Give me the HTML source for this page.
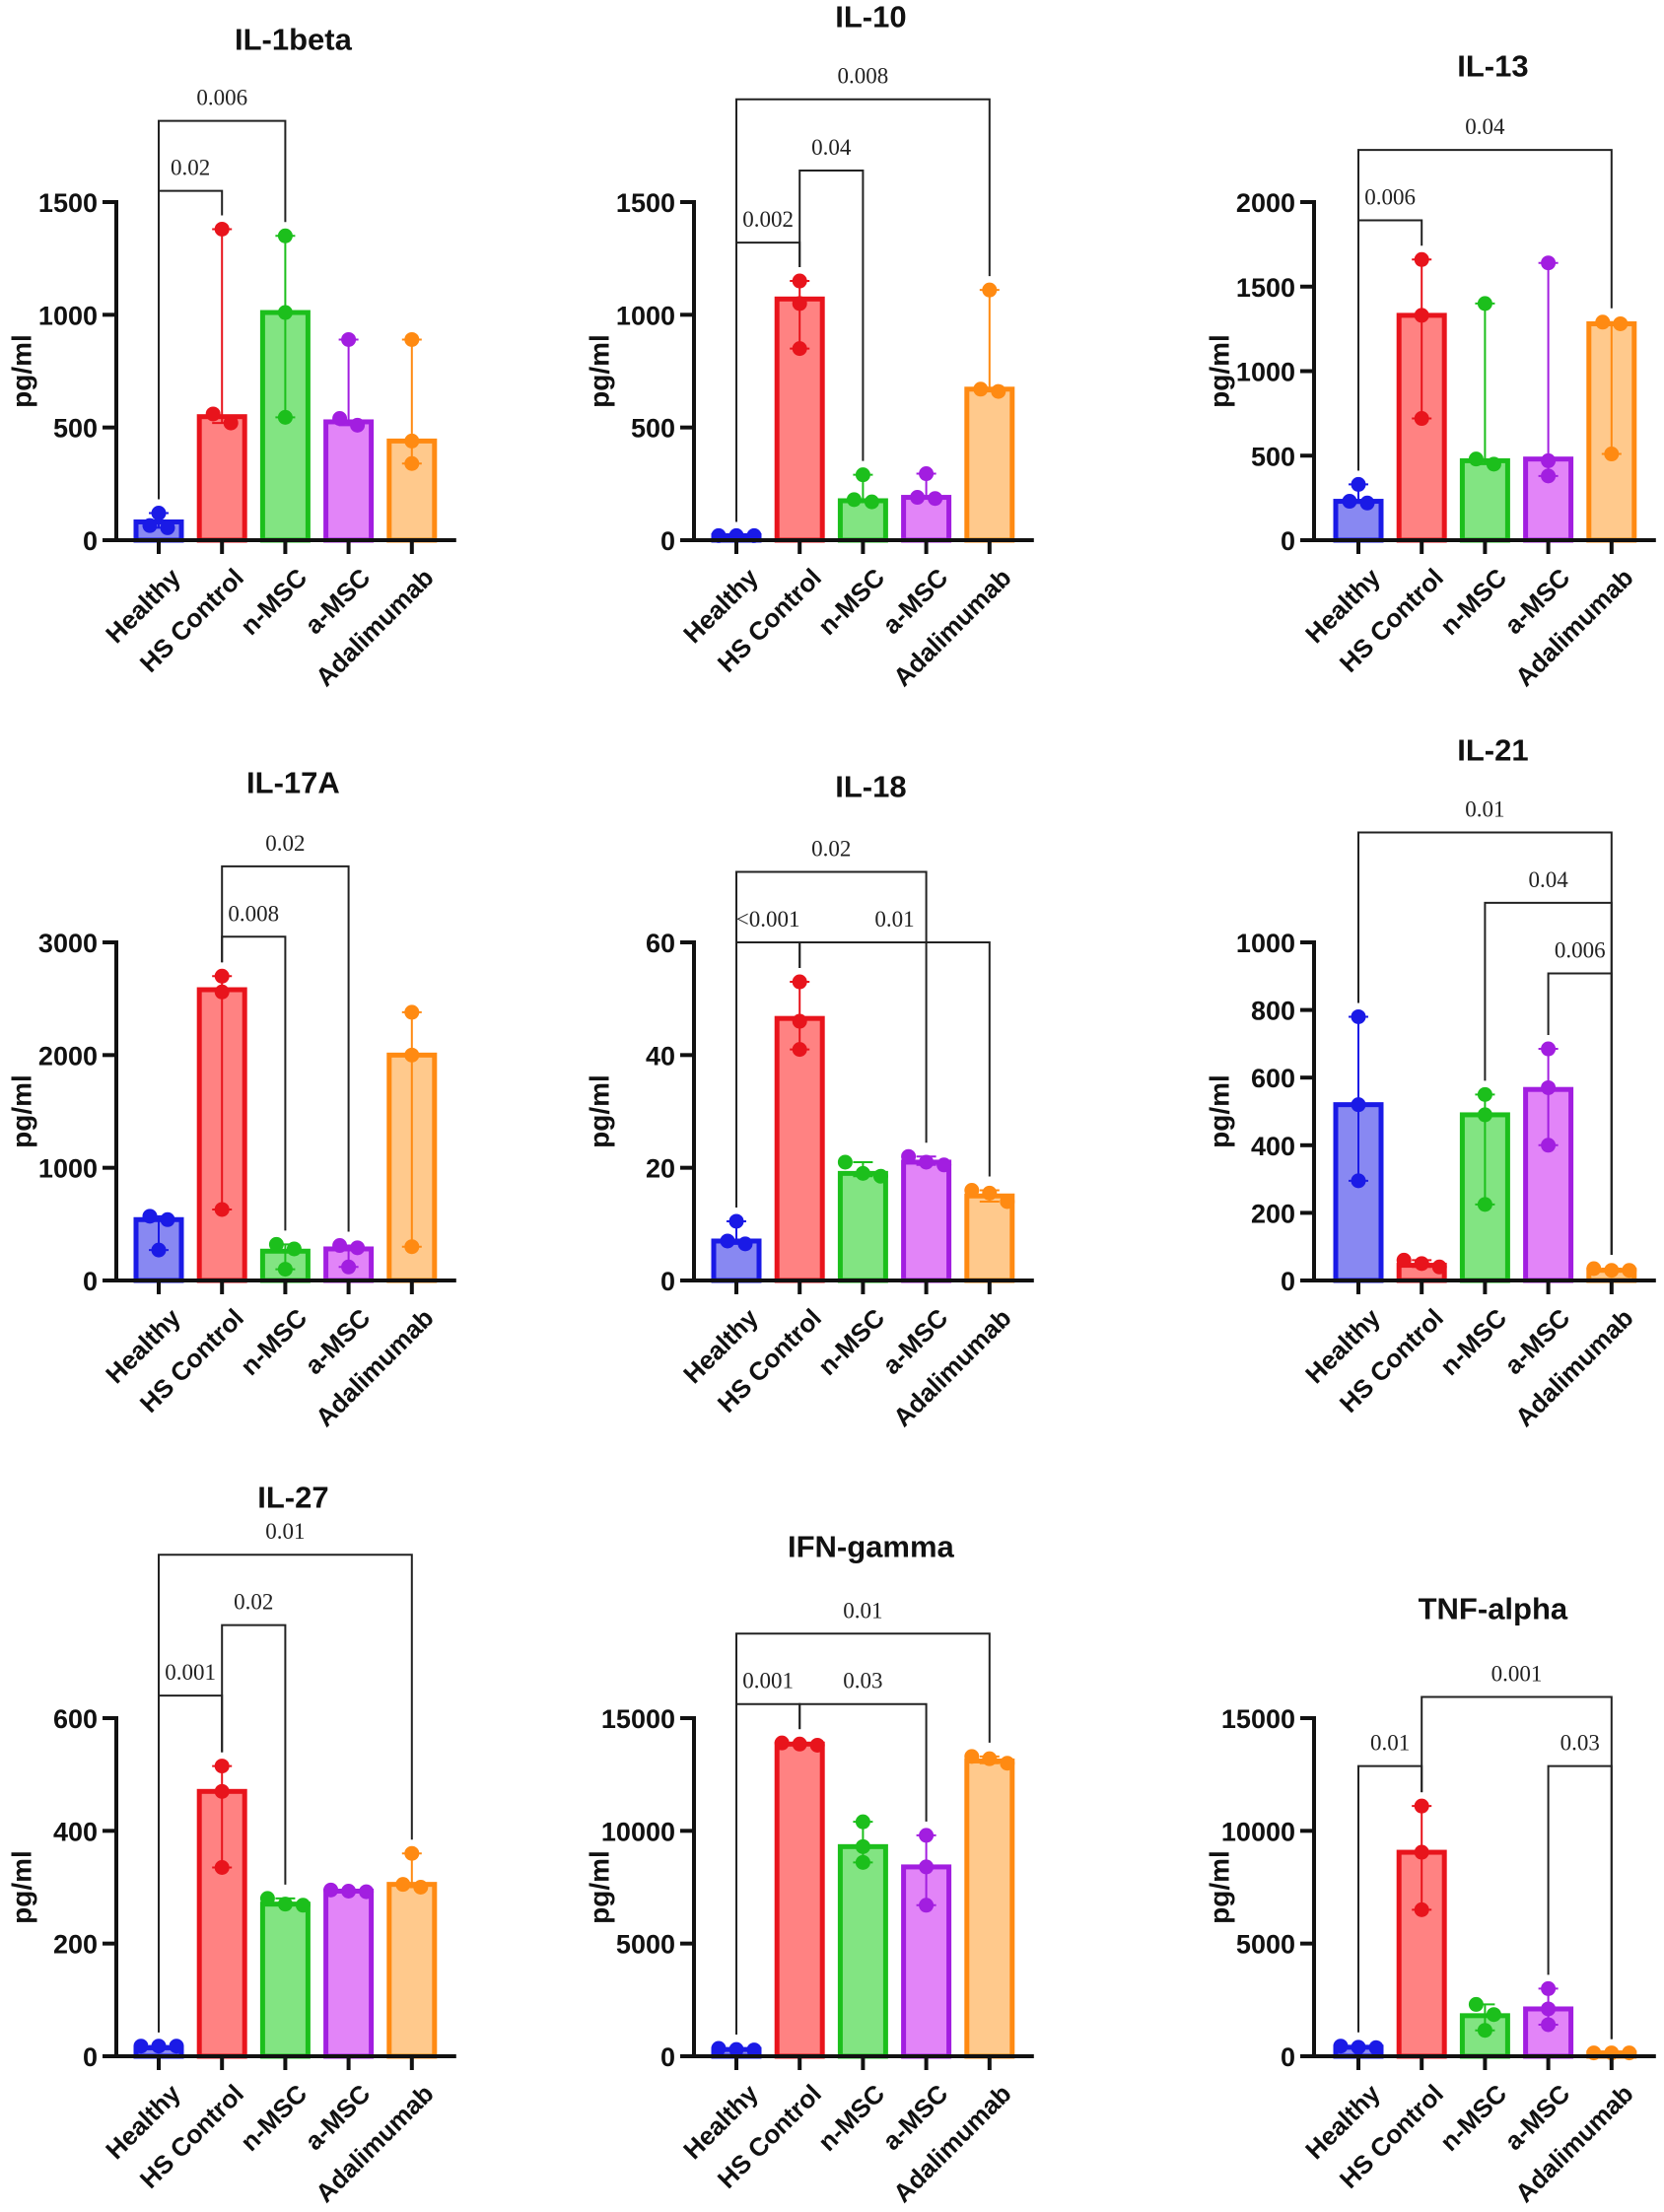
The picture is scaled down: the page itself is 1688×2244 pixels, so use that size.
<!DOCTYPE html>
<html><head><meta charset="utf-8"><style>
html,body{margin:0;padding:0;background:#fff;}
svg{display:block;}
</style></head><body>
<svg id="fig" width="1688" height="2244" viewBox="0 0 1688 2244" xmlns="http://www.w3.org/2000/svg"></svg>
<script>
const groups = ["Healthy","HS Control","n-MSC","a-MSC","Adalimumab"];
const titles = ["IL-1beta","IL-10","IL-13","IL-17A","IL-18","IL-21","IL-27","IFN-gamma","TNF-alpha"];
const yMax = [1500,1500,2000,3000,60,1000,600,15000,15000];
const yTicks = [[0,500,1000,1500],[0,500,1000,1500],[0,500,1000,1500,2000],[0,1000,2000,3000],[0,20,40,60],[0,200,400,600,800,1000],[0,200,400,600],[0,5000,10000,15000],[0,5000,10000,15000]];
const barMedians = [
 [81,548,1010,525,440],
 [20,1070,175,190,670],
 [230,1330,470,480,1280],
 [540,2580,260,280,2000],
 [7,46.5,19,21,15],
 [520,45,490,565,30],
 [15,470,270,293,305],
 [300,13850,9300,8400,13100],
 [400,9050,1800,2100,150]];
const points = [
 [[120,55,65],[1380,520,560],[1350,1010,545],[890,510,540],[890,440,340]],
 [[20,20,20],[1150,1050,850],[290,180,170],[295,190,185],[1110,670,660]],
 [[330,230,220],[1660,1330,720],[1400,480,450],[1640,470,380],[1290,1280,510]],
 [[570,540,270],[2700,2560,630],[320,280,100],[310,290,120],[2380,2000,300]],
 [[10.5,7,6.5],[53,46,41],[21,19,18.5],[22,21,20.5],[16,15.5,14]],
 [[780,520,295],[60,50,40],[550,490,225],[685,570,400],[35,30,30]],
 [[18,18,18],[515,470,335],[280,270,268],[295,293,292],[360,305,300]],
 [[350,300,280],[13900,13850,13800],[10400,9300,8600],[9800,8400,6700],[13300,13200,13000]],
 [[450,400,380],[11100,9050,6500],[2300,1850,1150],[3000,2100,1400],[150,150,150]]];
// brackets: [from group, to group, level (data units), label]
const brackets = [
 [[0,1,1550,"0.02"],[0,2,1860,"0.006"]],
 [[0,1,1320,"0.002"],[1,2,1640,"0.04"],[0,4,1956,"0.008"]],
 [[0,1,1892,"0.006"],[0,4,2308,"0.04"]],
 [[1,2,3050,"0.008"],[1,3,3675,"0.02"]],
 [[0,1,60,"<0.001"],[1,4,60,"0.01"],[0,3,72.5,"0.02"]],
 [[3,4,908,"0.006"],[2,4,1117,"0.04"],[0,4,1325,"0.01"]],
 [[0,1,640,"0.001"],[1,2,765,"0.02"],[0,4,890,"0.01"]],
 [[0,1,15625,"0.001"],[1,3,15625,"0.03"],[0,4,18750,"0.01"]],
 [[0,1,12875,"0.01"],[3,4,12875,"0.03"],[1,4,15940,"0.001"]]];

const colX0 = [161,747,1378], axisXs = [118,704,1333], zeroYs = [548,1299,2086];
const titleYs = [40,17,67,794,798,761,1519,1569,1632];
const SP = 64.2, PH = 343, BW = 46;
const stroke = ["#1a1ae6","#e8141c","#1cbf1c","#a21ee0","#ff8a12"];
const fill = ["#8888f2","#ff8282","#82e482","#e284f8","#ffc98c"];
const svg = document.getElementById('fig');
const NS = "http://www.w3.org/2000/svg";
function mk(tag, attrs, parent){const e=document.createElementNS(NS,tag);for(const k in attrs)e.setAttribute(k,attrs[k]);(parent||svg).appendChild(e);return e;}

titles.forEach((t,p)=>{
  const c=p%3, r=Math.floor(p/3);
  const g=mk('g',{});
  
  
  const ax=axisXs[c], x0=colX0[c], zy=zeroYs[r], xEnd=x0+4*SP+45;
  const yS=v=>zy-v/yMax[p]*PH;
  const xS=i=>x0+i*SP;
  const tt=mk('text',{x:x0+2*SP+8,y:titleYs[p],'text-anchor':'middle','dominant-baseline':'central','font-family':'Liberation Sans, sans-serif','font-weight':'bold','font-size':31,fill:'#111'},g);
  tt.textContent=t;
  
  
  groups.forEach((gn,i)=>{
    const cx=xS(i), top=yS(barMedians[p][i]);
    const b=mk('rect',{x:cx-BW/2,y:Math.min(top,zy-1),width:BW,height:Math.max(zy-top,1),fill:fill[i],stroke:stroke[i],'stroke-width':5},g);
    
    
    const pts=points[p][i];
    const mn=Math.min(...pts), mx=Math.max(...pts);
    const eb=mk('g',{stroke:stroke[i],'stroke-width':2},g);
    
    
    mk('line',{x1:cx,x2:cx,y1:yS(mn),y2:yS(mx)},eb);
    mk('line',{x1:cx-10,x2:cx+10,y1:yS(mn),y2:yS(mn)},eb);
    mk('line',{x1:cx-10,x2:cx+10,y1:yS(mx),y2:yS(mx)},eb);
    const ys=pts.map(yS);
    const order=ys.map((y,k)=>k).sort((a,b)=>ys[a]-ys[b]);
    const clusters=[];
    order.forEach(k=>{const last=clusters[clusters.length-1];if(last&&Math.abs(ys[k]-ys[last[last.length-1]])<12)last.push(k);else clusters.push([k]);});
    clusters.forEach(cl=>{cl.forEach((k,j)=>{
      const off=(j-(cl.length-1)/2)*18;
      const d=mk('circle',{cx:cx+off,cy:ys[k],r:7.5,fill:stroke[i]},g);
      
      
    });});
  });
  const ya=mk('line',{x1:ax,x2:ax,y1:zy-PH-2,y2:zy+2,stroke:'#111','stroke-width':4},g);
  
  
  const xa=mk('line',{x1:ax-14,x2:xEnd,y1:zy,y2:zy,stroke:'#111','stroke-width':4},g);
  
  
  yTicks[p].forEach(v=>{
    const y=yS(v);
    mk('line',{x1:ax-14,x2:ax,y1:y,y2:y,stroke:'#111','stroke-width':4},g);
    const l=mk('text',{x:ax-19,y:y+1,'text-anchor':'end','dominant-baseline':'central','font-family':'Liberation Sans, sans-serif','font-weight':'bold','font-size':27,fill:'#111'},g);
    l.textContent=v;
    
    
  });
  const yt=mk('text',{x:0,y:0,transform:`translate(${ax-96},${zy-PH/2}) rotate(-90)`,'text-anchor':'middle','dominant-baseline':'central','font-family':'Liberation Sans, sans-serif','font-weight':'bold','font-size':28,fill:'#111'},g);
  yt.textContent='pg/ml';
  
  
  groups.forEach((gn,i)=>{
    const cx=xS(i);
    mk('line',{x1:cx,x2:cx,y1:zy,y2:zy+14,stroke:'#111','stroke-width':4},g);
    const l=mk('text',{x:0,y:0,transform:`translate(${cx+10},${zy+26}) rotate(-45)`,'text-anchor':'end','dominant-baseline':'hanging','font-family':'Liberation Sans, sans-serif','font-weight':'bold','font-size':26,fill:'#111'},g);
    l.textContent=gn;
    
    
  });
  brackets[p].forEach(bk=>{
    const [a,b,lev,lab]=bk;
    const y=yS(lev), xa1=xS(a), xb=xS(b);
    const legA=yS(Math.max(...points[p][a]))-14, legB=yS(Math.max(...points[p][b]))-14;
    const bg=mk('g',{},g);
    
    
    mk('polyline',{points:`${xa1},${Math.max(legA,y+10)} ${xa1},${y} ${xb},${y} ${xb},${Math.max(legB,y+10)}`,fill:'none',stroke:'#222','stroke-width':2},bg);
    const tx=mk('text',{x:(xa1+xb)/2,y:y-16,'text-anchor':'middle','font-family':'Liberation Serif, serif','font-size':23,fill:'#222'},bg);
    tx.textContent=lab;
    
    
  });
});
</script>
</body></html>
